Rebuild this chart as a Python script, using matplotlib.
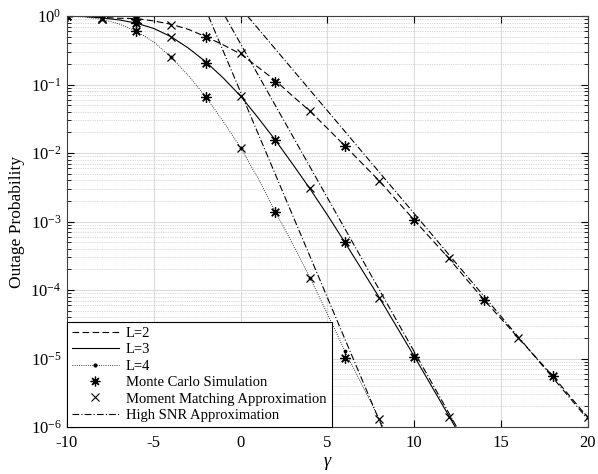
import matplotlib
matplotlib.use("Agg")
import matplotlib.pyplot as plt
from matplotlib.lines import Line2D

# fuente tipo Times como en la figura original
plt.rcParams['font.family'] = ['Liberation Serif', 'DejaVu Serif']
plt.rcParams['mathtext.fontset'] = 'custom'
plt.rcParams['mathtext.rm'] = 'Liberation Serif'
plt.rcParams['mathtext.it'] = 'Liberation Serif:italic'
plt.rcParams['axes.unicode_minus'] = False

# curvas analiticas (gamma en dB)
gamma = [-10, -9, -8, -7, -6, -5, -4, -3, -2, -1, 0, 1, 2, 3, 4, 5, 6, 8, 10, 12, 13, 14, 16, 18, 20]
p_L2 = [1.0, 0.99, 0.96, 0.93, 0.92, 0.85, 0.76, 0.64, 0.5, 0.38, 0.28, 0.18, 0.115, 0.068, 0.041,
        0.023, 0.0128, 0.0039, 0.00105, 2.9e-4, 1.45e-4, 7.3e-5, 2.0e-5, 5.5e-6, 1.38e-6]
p_L3 = [1.0, 0.99, 0.94, 0.88, 0.79, 0.66, 0.5, 0.34, 0.215, 0.125, 0.068, 0.033, 0.0155, 0.0069, 0.003,
        1.25e-3, 5e-4, 7.7e-5, 1.08e-5, 1.45e-6, 5.2e-7]
p_L4 = [1.0, 0.97, 0.9, 0.77, 0.6, 0.42, 0.25, 0.135, 0.066, 0.029, 0.012, 0.0043, 0.0014, 4.7e-4, 1.5e-4,
        4.5e-5, 1.3e-5, 1.3e-6]
gamma_L4_extra = [9]
p_L4_extra = [4e-7]

# Monte Carlo
mc_gamma = [-10, -6, -2, 2, 6, 10, 14, 18]
mc_L2 = [1.0, 0.92, 0.5, 0.11, 0.0128, 0.00105, 7.2e-5, 5.6e-6]
mc_L3 = [1.0, 0.8, 0.21, 0.0155, 5e-4, 1.05e-5]
mc_L4 = [1.0, 0.6, 0.067, 1.4e-3, 1.02e-5]

# Moment matching
mm_gamma = [-8, -4, 0, 4, 8, 12, 16, 20]
mm_L2 = [0.95, 0.75, 0.29, 0.041, 0.0039, 2.9e-4, 2.0e-5, 1.38e-6]
mm_L3 = [0.92, 0.49, 0.068, 3.1e-3, 7.7e-5, 1.4e-6]
mm_L4 = [0.9, 0.25, 0.012, 1.5e-4, 1.3e-6]

# aproximacion de alta SNR (rectas en escala log)
hs_gamma_L2 = [0.4, 20.0]
hs_p_L2 = [1.0, 1.3e-6]
hs_gamma_L3 = [-0.9, 12.45]
hs_p_L3 = [1.0, 1e-6]
hs_gamma_L4 = [-1.85, 8.15]
hs_p_L4 = [1.0, 1e-6]

x_ticks = [-10, -5, 0, 5, 10, 15, 20]

fig = plt.figure(figsize=(5.98, 4.74), dpi=100)
ax = fig.add_axes([0.112, 0.099, 0.871, 0.867])

lw = 0.8
dash = (0, (6, 3))
dashdot = (0, (6, 2, 1, 2))

ax.plot(gamma, p_L2, color='k', lw=lw, linestyle=dash)
ax.plot(gamma[:len(p_L3)], p_L3, color='k', lw=lw, linestyle='-')
ax.plot(gamma[:len(p_L4)] + gamma_L4_extra, p_L4 + p_L4_extra, color='k', lw=0.6, linestyle=':')
ax.plot(gamma[:len(p_L4)][::2], p_L4[::2], color='k', linestyle='none', marker='.', markersize=3.5)

for g, p in [(hs_gamma_L2, hs_p_L2), (hs_gamma_L3, hs_p_L3), (hs_gamma_L4, hs_p_L4)]:
    ax.plot(g, p, color='k', lw=lw, linestyle=dashdot)

ast = (8, 2, 0)
for p in [mc_L2, mc_L3, mc_L4]:
    ax.plot(mc_gamma[:len(p)], p, color='k', linestyle='none', marker=ast, markersize=7.5, markeredgewidth=0.9)
for p in [mm_L2, mm_L3, mm_L4]:
    ax.plot(mm_gamma[:len(p)], p, color='k', linestyle='none', marker='x', markersize=6, markeredgewidth=0.9)

ax.set_yscale('log')
ax.set_xlim(-10, 20)
ax.set_ylim(1e-6, 1)
ax.set_xticks(x_ticks)
ax.set_xticklabels([str(t) for t in x_ticks])

ax.grid(True, which='major', color='#dcdcdc', lw=0.8, linestyle='-')
ax.grid(True, which='minor', axis='y', color='#b8b8b8', lw=0.5, linestyle=(0, (1, 1.5)))
ax.set_axisbelow(True)
ax.tick_params(which='both', direction='in', top=True, right=True, labelsize=12)
ax.tick_params(which='major', length=5)
ax.tick_params(which='minor', length=3)
ax.tick_params(axis='x', which='major', pad=6)
ax.tick_params(axis='y', which='major', pad=4)
ax.tick_params(axis='x', which='minor', bottom=False, top=False)
ax.xaxis.get_offset_text().set_visible(False)
ax.yaxis.get_offset_text().set_visible(False)
for s in ax.spines.values():
    s.set_linewidth(0.8)
    s.set_color('#404040')

ax.set_xlabel('γ', fontsize=13, fontstyle='italic', labelpad=1)
ax.set_ylabel('Outage Probability', fontsize=12.5)

handles = [
    Line2D([], [], color='k', lw=lw, linestyle=dash),
    Line2D([], [], color='k', lw=lw, linestyle='-'),
    Line2D([], [], color='k', lw=0.6, linestyle=':', marker='.', markersize=4, markevery=[1]),
    Line2D([], [], color='k', linestyle='none', marker=ast, markersize=7, markeredgewidth=0.9),
    Line2D([], [], color='k', linestyle='none', marker='x', markersize=5.5, markeredgewidth=0.8),
    Line2D([], [], color='k', lw=lw, linestyle=dashdot),
]
labels = ['L=2', 'L=3', 'L=4', 'Monte Carlo Simulation', 'Moment Matching Approximation',
          'High SNR Approximation']
leg = ax.legend(handles, labels, loc='lower left', borderaxespad=0, fontsize=10.5,
                fancybox=False, handlelength=3.2, labelspacing=0.22, borderpad=0.35,
                handletextpad=0.5, framealpha=1)
leg.get_frame().set_edgecolor('k')
leg.get_frame().set_linewidth(0.8)

fig.savefig('out.png', dpi=100)
